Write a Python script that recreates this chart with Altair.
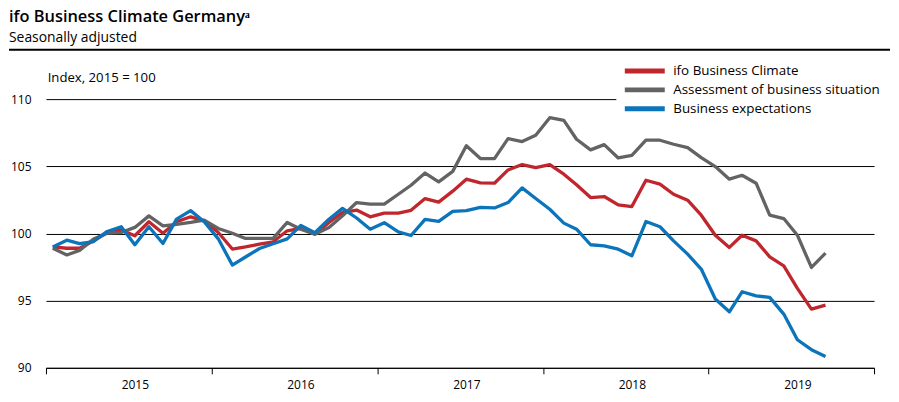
import altair as alt
import pandas as pd

# Monthly values, Jan 2015 - Sep 2019 (index 2015 = 100)
start_month = "2015-01-01"
n_months = 57

climate = [99.0, 98.9, 98.9, 99.45, 100.07, 100.25, 99.83, 100.87, 100.02, 100.87, 101.24, 100.94,
           100.07, 98.84, 99.0, 99.2, 99.38, 100.2, 100.37, 99.95, 100.82, 101.56, 101.74, 101.24,
           101.52, 101.52, 101.72, 102.6, 102.33, 103.15, 104.04, 103.76, 103.74, 104.73, 105.13, 104.9,
           105.13, 104.41, 103.62, 102.67, 102.75, 102.13, 102.0, 103.96, 103.67, 102.92, 102.48, 101.36,
           99.87, 98.96, 99.87, 99.45, 98.26, 97.59, 95.91, 94.37, 94.67]

situation = [98.9, 98.4, 98.74, 99.58, 100.02, 100.07, 100.45, 101.31, 100.57, 100.67, 100.82, 100.99,
             100.37, 100.02, 99.63, 99.64, 99.64, 100.82, 100.32, 99.95, 100.44, 101.31, 102.3, 102.18,
             102.18, 102.92, 103.59, 104.5, 103.84, 104.62, 106.53, 105.58, 105.57, 107.06, 106.84, 107.31,
             108.62, 108.42, 107.01, 106.22, 106.61, 105.62, 105.82, 106.94, 106.94, 106.64, 106.39, 105.65,
             104.98, 104.04, 104.33, 103.74, 101.36, 101.11, 99.87, 97.47, 98.53]

expectations = [99.0, 99.5, 99.25, 99.4, 100.15, 100.5, 99.16, 100.5, 99.25, 101.07, 101.7, 100.87,
                99.6, 97.65, 98.25, 98.88, 99.23, 99.6, 100.6, 100.05, 101.06, 101.87, 101.15, 100.32,
                100.8, 100.12, 99.85, 101.05, 100.9, 101.65, 101.7, 101.94, 101.9, 102.3, 103.39, 102.6,
                101.8, 100.77, 100.32, 99.16, 99.08, 98.83, 98.34, 100.89, 100.5, 99.45, 98.46, 97.35,
                95.12, 94.17, 95.66, 95.36, 95.24, 94.0, 92.09, 91.35, 90.85]

series_names = ["ifo Business Climate", "Assessment of business situation", "Business expectations"]
series_colors = ["#c0272d", "#636363", "#0b74bb"]

y_ticks = [90, 95, 100, 105, 110]
year_ticks = [2015, 2016, 2017, 2018, 2019, 2020]

title_text = "ifo Business Climate Germany\u1d43"
subtitle_text = "Seasonally adjusted"
unit_text = "Index, 2015 = 100"

FONT = "Open Sans"

months = pd.date_range(start_month, periods=n_months, freq="MS")
dates = [(m + pd.Timedelta(days=15)).strftime("%Y-%m-%d") for m in months]

rows = []
for name, vals in zip(series_names, [climate, situation, expectations]):
    for d, v in zip(dates, vals):
        rows.append({"date": d, "value": v, "series": name})
df = pd.DataFrame(rows)
df["order"] = df["series"].map({series_names[1]: 0, series_names[2]: 1, series_names[0]: 2})

x_scale = alt.Scale(type="utc",
                    domain=[alt.DateTime(year=2015, month=1, date=1, utc=True),
                            alt.DateTime(year=2020, month=1, date=1, utc=True)])

x_axis = alt.Axis(
    values=[alt.DateTime(year=y, month=1, date=1, utc=True) for y in year_ticks],
    labelExpr="utcyear(datum.value) > 2019 ? '' : utcFormat(datum.value, '%Y')",
    labelOffset={"condition": {"test": "utcyear(datum.value) > 2019", "value": 0}, "value": 89},
    labelFlush=False, labelOverlap=False,
    tickSize=6, tickColor="black", tickWidth=1,
    domainColor="black", domainWidth=1,
    labelPadding=6, labelFontSize=12, labelFont=FONT, labelColor="black",
    grid=False, title=None,
)

y_axis = alt.Axis(
    values=y_ticks, grid=True, gridColor="black", gridWidth=1,
    domain=False, ticks=False, tickSize=0, labelPadding=15,
    labelFontSize=12, labelFont=FONT, labelColor="black", title=None,
)

legend = alt.Legend(
    orient="none", legendX=571, legendY=-43.5, fillColor="white", padding=6,
    symbolType="stroke", symbolSize=1600, symbolStrokeWidth=5, clipHeight=18.5,
    rowPadding=0, labelOffset=6, labelFontSize=13.4, labelFont=FONT, labelColor="black",
    labelLimit=400, title=None,
)

lines = alt.Chart(df).mark_line(strokeWidth=3.3, strokeJoin="round").encode(
    x=alt.X("date:T", scale=x_scale, axis=x_axis),
    y=alt.Y("value:Q", scale=alt.Scale(domain=[90, 110], nice=False, zero=False), axis=y_axis),
    color=alt.Color("series:N", scale=alt.Scale(domain=series_names, range=series_colors), legend=legend),
    detail="order:O",
)


def label(text, x, y, size, weight="normal"):
    return alt.Chart(alt.Data(values=[{"t": text}])).mark_text(
        align="left", baseline="alphabetic", font=FONT, fontSize=size, fontWeight=weight, color="black"
    ).encode(x=alt.value(x), y=alt.value(y), text="t:N")


title = label(title_text, -37, -77.5, 16.4, 600)
subtitle = label(subtitle_text, -37, -57.6, 13.9)
unit = label(unit_text, 1.7, -17.3, 13.2)
top_rule = alt.Chart(alt.Data(values=[{"a": 1}])).mark_rule(color="black", strokeWidth=2).encode(
    x=alt.value(-37), x2=alt.value(845), y=alt.value(-49.3)
)

chart = alt.layer(top_rule, title, subtitle, unit, lines).properties(
    width=829, height=269,
    padding={"left": 0, "top": 0, "right": 0, "bottom": 4},
).configure_view(stroke=None)

chart.save("out.html", embed_options={"renderer": "svg", "actions": False})
